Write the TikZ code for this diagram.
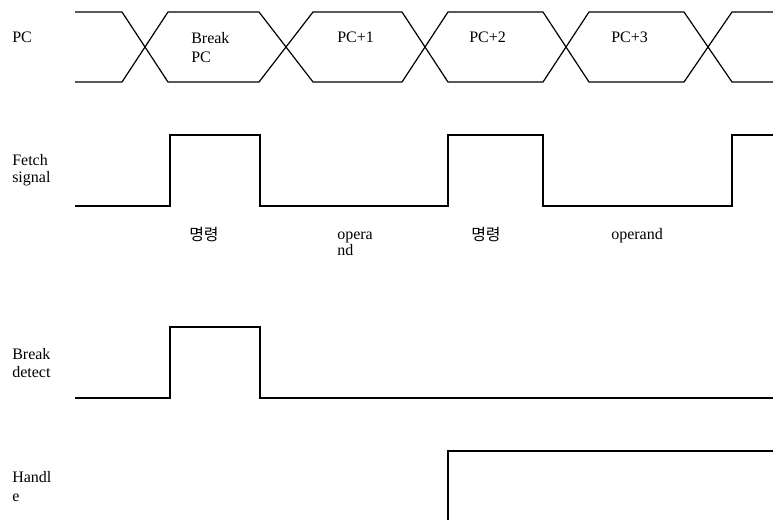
\documentclass[tikz,border=0pt]{standalone}
\usepackage{fontspec}
\setmainfont{Liberation Serif}
\newfontfamily\krfont{Noto Sans CJK KR}
\begin{document}
\begin{tikzpicture}[x=0.75pt,y=-0.75pt,
  lbl/.style={anchor=base west,inner sep=0pt,font=\fontsize{12}{14}\selectfont},
  kr/.style={anchor=base west,inner sep=0pt,font=\krfont\fontsize{12}{14}\selectfont},
  bus/.style={line width=0.9pt,line join=miter},
  sig/.style={line width=1.6pt,line join=miter}]
\useasboundingbox (0,0) rectangle (773,520);
% PC bus
\draw[bus] (75,12)--(122,12)--(168,82)--(259,82)--(313,12)--(402,12)--(448,82)--(543,82)--(589,12)--(684,12)--(732,82)--(773,82);
\draw[bus] (75,82)--(122,82)--(168,12)--(259,12)--(313,82)--(402,82)--(448,12)--(543,12)--(589,82)--(684,82)--(732,12)--(773,12);
% Fetch signal
\draw[sig] (75,206)--(170,206)--(170,135)--(260,135)--(260,206)--(448,206)--(448,135)--(543,135)--(543,206)--(732,206)--(732,135)--(773,135);
% Break detect
\draw[sig] (75,398)--(170,398)--(170,327)--(260,327)--(260,398)--(773,398);
% Handle
\draw[sig] (448,520)--(448,451)--(773,451);
% labels
\node[lbl] (pc) at (12,43) {PC};
\node[lbl] (bpc1) at (191,44) {Break};
\node[lbl] (bpc2) at (191,63) {PC};
\node[lbl] (pc1) at (337,43) {PC+1};
\node[lbl] (pc2) at (469,43) {PC+2};
\node[lbl] (pc3) at (611,43) {PC+3};
\node[lbl] (fs1) at (12,166) {Fetch};
\node[lbl] (fs2) at (12,183) {signal};
\node[kr] (k1) at (189,240.5) {명령};
\node[lbl] (op1) at (337,239) {opera};
\node[lbl] (op2) at (337,255) {nd};
\node[kr] (k2) at (471,240.5) {명령};
\node[lbl] (op3) at (611,239) {operand};
\node[lbl] (bd1) at (12,359) {Break};
\node[lbl] (bd2) at (12,377) {detect};
\node[lbl] (h1) at (12,482) {Handl};
\node[lbl] (h2) at (12,501.5) {e};
\end{tikzpicture}
\end{document}
